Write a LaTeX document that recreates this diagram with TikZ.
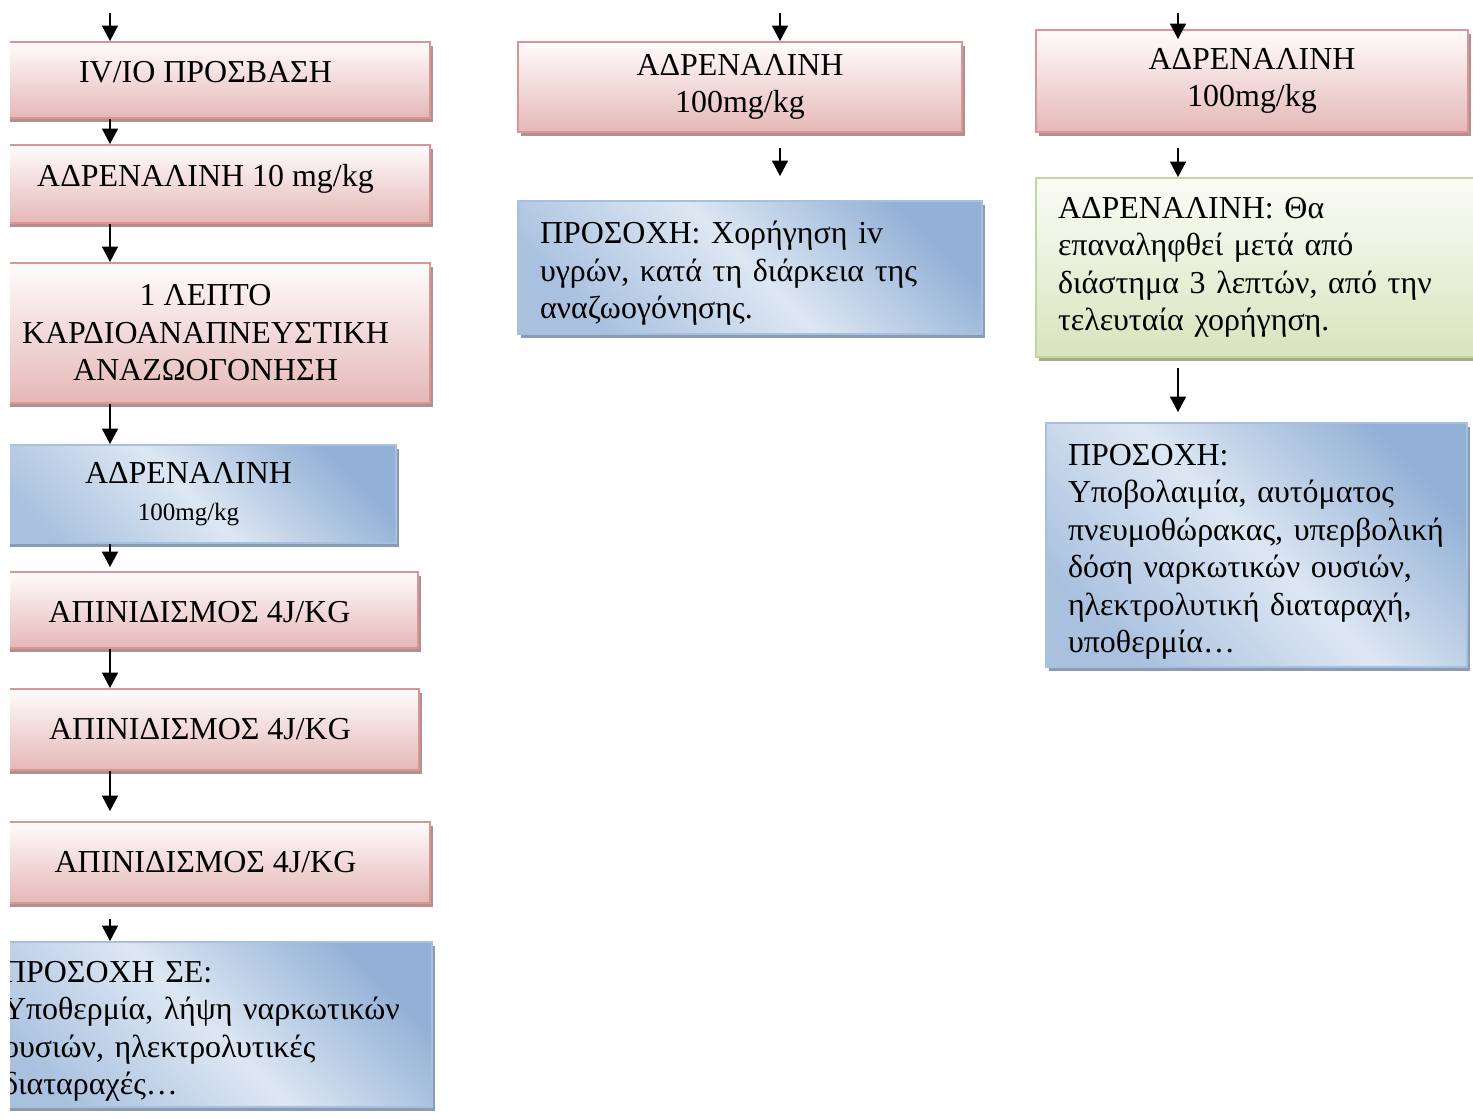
\documentclass[tikz,border=0pt]{standalone}
\usepackage{fontspec}
\setmainfont{Liberation Serif}
\usetikzlibrary{arrows.meta}
\usetikzlibrary{shadows}
\newcommand{\pxu}{0.36pt}
\newcommand{\lowtop}{\rule{0pt}{12.5pt}}
\definecolor{pinktop}{HTML}{FFFCFC}
\definecolor{pinkbot}{HTML}{E5B8B7}
\definecolor{pinkline}{HTML}{D99694}
\definecolor{pinkshade}{HTML}{B39090}
\definecolor{bluelo}{HTML}{A9C1DF}
\definecolor{bluemid}{HTML}{DDE7F3}
\definecolor{bluehi}{HTML}{93B1D6}
\definecolor{blueline}{HTML}{A7C0DE}
\definecolor{blueshade}{HTML}{8A9BB2}
\definecolor{greentop}{HTML}{FBFCF7}
\definecolor{greenbot}{HTML}{D7E4BD}
\definecolor{greenline}{HTML}{C3D69B}
\definecolor{greenshade}{HTML}{A4AD8F}
\tikzset{box/.style = {draw, line width=0.6pt, align=center, inner sep=0,
                       font=\fontsize{11.5}{13.5}\selectfont}}
\tikzset{sz/.style 2 args = {minimum width=#1*\pxu, minimum height=#2*\pxu}}
\tikzset{note/.style = {align=left, inner xsep=7.92pt, inner ysep=0}}
\tikzset{pinkbox/.style = {box, draw=pinkline, top color=pinktop, bottom color=pinkbot,
                           general shadow={fill=pinkshade, shadow xshift=1.1pt, shadow yshift=-1.6pt}}}
\tikzset{bluebox/.style = {box, draw=blueline, left color=bluelo, right color=bluehi,
                           middle color=bluemid, shading angle=135,
                           general shadow={fill=blueshade, shadow xshift=1.1pt, shadow yshift=-1.6pt}}}
\tikzset{greenbox/.style = {box, draw=greenline, top color=greentop, bottom color=greenbot,
                            general shadow={fill=greenshade, shadow xshift=1.1pt, shadow yshift=-1.6pt}}}
\tikzset{arr/.style = {-{Triangle[width=5.6pt, length=5.6pt]}, line width=0.95pt}}
\begin{document}
\begin{tikzpicture}[x=\pxu, y=-\pxu]
      \useasboundingbox (0,0) rectangle (1473,1118);
      \clip (10,0) rectangle (1473,1118);

      % left column
      \node [pinkbox, sz={449}{76}, text depth=6pt] (acc) at (205.5,80) {IV/IO ΠΡΟΣΒΑΣΗ};
      \node [pinkbox, sz={449}{78}, text depth=6.5pt] (adr10) at (205.5,184) {ΑΔΡΕΝΑΛΙΝΗ 10 mg/kg};
      \node [pinkbox, sz={449}{140}] (cpr) at (205.5,333) {1 ΛΕΠΤΟ\\ΚΑΡΔΙΟΑΝΑΠΝΕΥΣΤΙΚΗ\\ΑΝΑΖΩΟΓΟΝΗΣΗ};
      \node [bluebox, sz={415}{98}] (adrL) at (188.5,494) {ΑΔΡΕΝΑΛΙΝΗ\\{\fontsize{9}{11}\selectfont 100mg/kg}};
      \node [pinkbox, sz={437}{76}, text height=9pt] (shockA) at (199.5,610) {ΑΠΙΝΙΔΙΣΜΟΣ 4J/KG};
      \node [pinkbox, sz={438}{81}] (shockB) at (200,729.5) {ΑΠΙΝΙΔΙΣΜΟΣ 4J/KG};
      \node [pinkbox, sz={449}{81}] (shockC) at (205.5,862.5) {ΑΠΙΝΙΔΙΣΜΟΣ 4J/KG};
      \node [bluebox, note, sz={451}{165}, text width=146.5pt] (warnL) at (206.5,1024.5)
            {\lowtop ΠΡΟΣΟΧΗ ΣΕ:\\Υποθερμία, λήψη ναρκωτικών\\ουσιών, ηλεκτρολυτικές\\διαταραχές…};

      % middle column
      \node [pinkbox, sz={444}{90}] (adrM) at (740,87) {ΑΔΡΕΝΑΛΙΝΗ\\100mg/kg};
      \node [bluebox, note, sz={464}{133}, text width=151.2pt] (warnM) at (750,267.5)
            {\lowtop ΠΡΟΣΟΧΗ: Χορήγηση iv\\υγρών, κατά τη διάρκεια της\\αναζωογόνησης.};

      % right column
      \node [pinkbox, sz={432}{102}] (adrR) at (1252,81) {ΑΔΡΕΝΑΛΙΝΗ\\100mg/kg};
      \node [greenbox, note, sz={439}{179}, text width=142.2pt] (repeat) at (1255.5,267.5)
            {ΑΔΡΕΝΑΛΙΝΗ: Θα\\επαναληφθεί μετά από\\διάστημα 3 λεπτών, από την\\τελευταία χορήγηση.};
      \node [bluebox, note, sz={421}{244}, text width=135.7pt] (warnR) at (1256.5,545)
            {\lowtop ΠΡΟΣΟΧΗ:\\Υποβολαιμία, αυτόματος\\πνευμοθώρακας, υπερβολική\\δόση ναρκωτικών ουσιών,\\ηλεκτρολυτική διαταραχή,\\υποθερμία…};

      \coordinate (colL) at (110,0);
      \coordinate (colM) at (780,0);
      \coordinate (colR) at (1178,0);
      \coordinate (inL) at (110,13);
      \coordinate (inM) at (780,13);
      \coordinate (inR) at (1178,13);

      \draw [arr] (inL) -- (acc.north -| inL);
      \draw [arr] (acc.south -| colL) -- (adr10.north -| colL);
      \draw [arr] (adr10.south -| colL) -- (cpr.north -| colL);
      \draw [arr] (cpr.south -| colL) -- (adrL.north -| colL);
      \draw [arr, shorten >=4*\pxu] (adrL.south -| colL) -- (shockA.north -| colL);
      \draw [arr] (shockA.south -| colL) -- (shockB.north -| colL);
      \draw [arr, shorten >=10*\pxu] (shockB.south -| colL) -- (shockC.north -| colL);
      \draw [arr, shorten <=15*\pxu] (shockC.south -| colL) -- (warnL.north -| colL);

      \draw [arr] (inM) -- (adrM.north -| inM);
      \draw [arr, shorten <=15*\pxu, shorten >=24*\pxu] (adrM.south -| colM) -- (warnM.north -| colM);

      \draw [arr, shorten >=-10*\pxu] (inR) -- (adrR.north -| inR);
      \draw [arr, shorten <=15*\pxu] (adrR.south -| colR) -- (repeat.north -| colR);
      \draw [arr, shorten <=10*\pxu, shorten >=10*\pxu] (repeat.south -| colR) -- (warnR.north -| colR);

    \end{tikzpicture}
\end{document}
